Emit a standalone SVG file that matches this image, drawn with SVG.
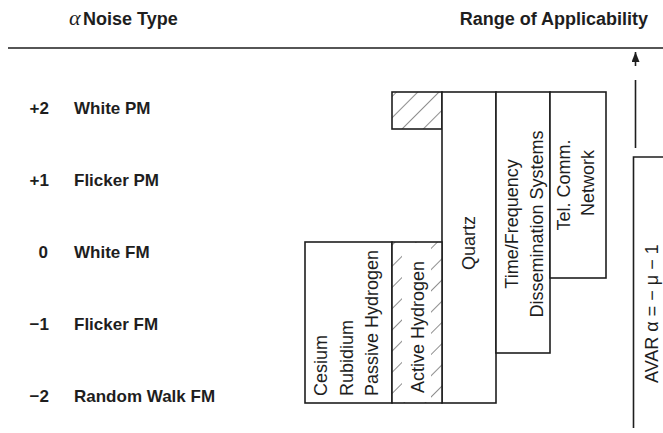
<svg xmlns="http://www.w3.org/2000/svg" width="663" height="433" viewBox="0 0 663 433">
<style>
.box{fill:#fff;stroke:#1e1e1e;stroke-width:1.6}
.hbox{fill:url(#hatch);stroke:#1e1e1e;stroke-width:1.6}
.lbl{font-family:"Liberation Sans",Arial,sans-serif;font-size:17px;font-weight:bold;fill:#1e1e1e}
.hdr{font-family:"Liberation Sans",Arial,sans-serif;font-size:18px;font-weight:bold;fill:#1e1e1e}
.bt{font-family:"Liberation Sans",Arial,sans-serif;font-size:18px;fill:#1e1e1e}
.ln{stroke:#1e1e1e;stroke-width:1.6;fill:none}
</style>
<defs>
<pattern id="hatch" patternUnits="userSpaceOnUse" width="15" height="15" patternTransform="rotate(45)">
<rect width="15" height="15" fill="#fff"/>
<line x1="0" y1="0" x2="0" y2="15" stroke="#444" stroke-width="1.2"/>
</pattern>
<marker id="ah" markerWidth="10" markerHeight="8" refX="10" refY="4" orient="auto" markerUnits="userSpaceOnUse" viewBox="0 0 10 8">
<path d="M0,0 L10,4 L0,8 Z" fill="#1e1e1e"/>
</marker>
</defs>
<rect width="663" height="433" fill="#fff"/>

<g id="header">
<text x="69" y="25" font-family="Liberation Serif,serif" font-style="italic" font-size="22" fill="#1e1e1e">α</text>
<text class="hdr" x="83" y="25">Noise Type</text>
<text class="hdr" x="648" y="25" text-anchor="end">Range of Applicability</text>
<line class="ln" x1="8" y1="48" x2="663" y2="48" stroke-width="2"/>
</g>

<g id="noise-labels">
<text class="lbl" x="49" y="114" text-anchor="end">+2</text>
<text class="lbl" x="74" y="114">White PM</text>
<text class="lbl" x="49" y="186" text-anchor="end">+1</text>
<text class="lbl" x="74" y="186">Flicker PM</text>
<text class="lbl" x="48" y="258" text-anchor="end">0</text>
<text class="lbl" x="74" y="258">White FM</text>
<text class="lbl" x="49" y="330" text-anchor="end">−1</text>
<text class="lbl" x="74" y="330">Flicker FM</text>
<text class="lbl" x="49" y="402" text-anchor="end">−2</text>
<text class="lbl" x="74" y="402">Random Walk FM</text>
</g>

<g id="hydrogen-maser-top">
<rect class="hbox" x="392" y="92" width="50" height="37"/>
</g>

<g id="quartz">
<rect class="box" x="442" y="92" width="54" height="311"/>
<text class="bt" transform="translate(475,243) rotate(-90)" text-anchor="middle">Quartz</text>
</g>

<g id="time-frequency">
<rect class="box" x="496" y="92" width="54" height="261"/>
<text class="bt" transform="translate(518,224) rotate(-90)" text-anchor="middle">Time/Frequency</text>
<text class="bt" transform="translate(543,224) rotate(-90)" text-anchor="middle">Dissemination Systems</text>
</g>

<g id="tel-comm">
<rect class="box" x="550" y="92" width="56" height="186"/>
<text class="bt" transform="translate(570,185) rotate(-90)" text-anchor="middle">Tel. Comm.</text>
<text class="bt" transform="translate(594,183) rotate(-90)" text-anchor="middle">Network</text>
</g>

<g id="cesium">
<rect class="box" x="305" y="242" width="87" height="161"/>
<text class="bt" transform="translate(327,396) rotate(-90)">Cesium</text>
<text class="bt" transform="translate(353,396) rotate(-90)">Rubidium</text>
<text class="bt" transform="translate(378,396) rotate(-90)">Passive Hydrogen</text>
</g>

<g id="active-hydrogen">
<rect class="hbox" x="392" y="242" width="50" height="161"/>
<rect x="402" y="243" width="29" height="159" fill="#fff"/>
<text class="bt" transform="translate(424,393) rotate(-90)">Active Hydrogen</text>
</g>

<g id="avar">
<path class="ln" d="M633.5,428 V157 H663"/>
<text class="bt" transform="translate(658,383) rotate(-90)">AVAR α = − μ − 1</text>
</g>

<g id="connectors">
<line class="ln" x1="635.5" y1="66" x2="635.5" y2="52" marker-end="url(#ah)"/>
<line class="ln" x1="635.5" y1="80" x2="635.5" y2="148"/>
</g>
</svg>
